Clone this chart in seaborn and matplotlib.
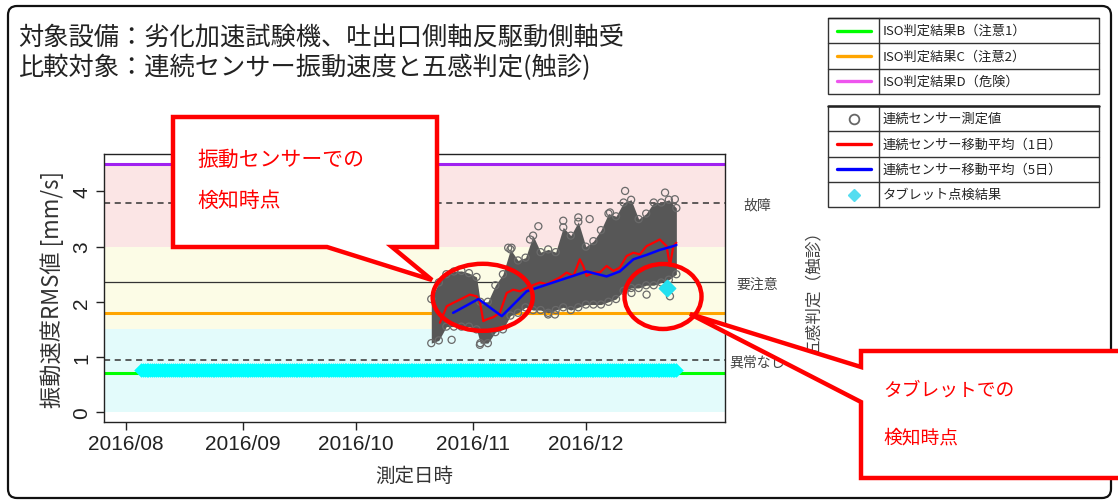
import numpy as np
import pandas as pd
import matplotlib
matplotlib.use("Agg")
import matplotlib.pyplot as plt
import matplotlib.dates as mdates
from matplotlib.patches import Polygon, Ellipse, FancyBboxPatch, Rectangle
import seaborn as sns

sns.set_theme(style="white")
plt.rcParams['font.family'] = ['Noto Sans CJK JP', 'DejaVu Sans']

BASE = pd.Timestamp("2016-08-01")

# ISO thresholds (mm/s)
iso_b, iso_c, iso_d = 0.71, 1.8, 4.5
# five-sense (palpation) judgement levels
sense_levels = [0.95, 2.35, 3.8]
sense_labels = ["異常なし", "要注意", "故障"]
# background bands
band_lo = [0.0, 1.5, 3.0]
band_hi = [1.5, 3.0, 4.5]
band_colors = ["#e3fbfb", "#fcfce6", "#fbe5e5"]

# x-axis month ticks
month_ticks = ["2016-08-01", "2016-09-01", "2016-10-01", "2016-11-01", "2016-12-01"]

# continuous sensor: spread of measured values per day (days since 2016-08-01)
env_day = [81, 83, 85, 87, 89, 91, 93, 94, 96, 98, 100, 102, 104, 106, 108, 110,
           112, 114, 116, 118, 120, 122, 124, 126, 128, 130, 132, 134, 136, 138,
           140, 142, 144, 146]
env_lo = [1.25, 1.30, 1.55, 1.55, 1.55, 1.55, 1.50, 1.25, 1.25, 1.45, 1.50, 1.75,
          1.80, 1.90, 1.85, 1.85, 1.80, 1.85, 1.90, 1.85, 1.90, 1.95, 1.95, 1.95,
          2.00, 2.05, 2.20, 2.25, 2.25, 2.30, 2.30, 2.35, 2.40, 2.50]
env_hi = [2.05, 2.35, 2.50, 2.55, 2.56, 2.52, 2.45, 2.00, 2.00, 2.30, 2.50, 2.95,
          2.75, 2.80, 3.20, 2.90, 2.95, 2.90, 3.35, 3.20, 3.45, 3.00, 3.10, 3.30,
          3.60, 3.55, 3.80, 3.85, 3.50, 3.60, 3.80, 3.80, 3.85, 3.70]
# isolated sensor readings
out_day = [86.4, 93.9, 112.0, 113.8, 134.1, 138.1, 144.3, 132.4, 143.0, 145.6,
           101.4, 102.3, 116.0, 120.0, 123.0, 128.4, 107.2, 109.4]
out_val = [1.31, 1.22, 1.77, 1.77, 2.16, 2.13, 2.10, 4.01, 3.98, 3.86,
           2.98, 2.98, 3.47, 3.53, 3.50, 3.62, 3.13, 3.37]

# moving averages
ma1_day = [83.3, 85.1, 86.8, 88.6, 91.2, 93.0, 93.9, 94.8, 95.7, 97.4, 99.2, 101.0,
           102.7, 104.5, 107.2, 109.8, 111.6, 115.1, 116.9, 118.7, 120.4, 121.3,
           122.2, 124.0, 125.7, 127.5, 129.3, 131.0, 132.8, 134.6, 136.3, 138.1,
           139.9, 141.6, 143.4, 144.3, 145.2, 146.0]
ma1_val = [1.62, 1.92, 1.98, 2.04, 2.13, 2.10, 2.00, 1.65, 1.68, 1.72, 1.80, 2.16,
           2.22, 2.19, 2.28, 2.35, 2.32, 2.44, 2.53, 2.47, 2.77, 2.65, 2.47, 2.53,
           2.53, 2.65, 2.56, 2.62, 2.83, 2.89, 2.86, 3.01, 3.07, 3.13, 3.01, 2.65,
           3.01, 3.07]
ma5_day = [86.8, 93.5, 99.7, 106.3, 113.3, 122.2, 127.5, 131.0, 134.6, 138.1,
           141.6, 145.2, 146.0]
ma5_val = [1.80, 2.05, 1.74, 2.19, 2.35, 2.55, 2.46, 2.55, 2.77, 2.85, 2.94, 3.01,
           3.03]

# tablet inspections: routine results and the detection
tablet_first, tablet_last = "2016-08-05", "2016-12-25"
tablet_level = 0.77
tablet_hit_day, tablet_hit_val = 143.4, 2.25


def to_date(days):
    return BASE + pd.to_timedelta(np.asarray(days, dtype=float), unit="D")


W, H = 1118, 502
fig = plt.figure(figsize=(W / 100, H / 100), dpi=100)
fig.patch.set_facecolor("white")

ax = fig.add_axes([103.6 / W, 1 - 423 / H, (725 - 103.6) / W, (423 - 155) / H])
ax.set_facecolor("white")

x0 = BASE - pd.Timedelta(days=5.9)
x1 = BASE + pd.Timedelta(days=158.9)
for lo, hi, c in zip(band_lo, band_hi, band_colors):
    ax.fill_between([x0, x1], lo, hi, color=c, lw=0, zorder=0)

ax.axhline(iso_d, color="#a020f0", lw=2.2, zorder=2)
ax.axhline(iso_c, color="#ffa500", lw=2.2, zorder=2)
ax.axhline(iso_b, color="#00ff00", lw=2.2, zorder=2)
ax.axhline(sense_levels[2], color="#333333", lw=1.1, ls=(0, (4, 3)), zorder=2)
ax.axhline(sense_levels[0], color="#333333", lw=1.1, ls=(0, (4, 3)), zorder=2)
ax.axhline(sense_levels[1], color="#333333", lw=0.9, zorder=2)

# sensor cloud: dense band of overlapping readings
env_dates = to_date(env_day)
ax.fill_between(env_dates, env_lo, env_hi, color="#575757", lw=0, zorder=3)
edge = pd.DataFrame({"t": np.concatenate([env_dates, env_dates, to_date(out_day)]),
                     "v": np.concatenate([env_lo, env_hi, out_val])})
sns.scatterplot(data=edge, x="t", y="v", ax=ax, marker="o", s=26,
                facecolors="none", edgecolor="#6a6a6a", linewidth=0.9, zorder=4)

tablet = pd.DataFrame({"t": pd.date_range(tablet_first, tablet_last, freq="12h")})
tablet["v"] = tablet_level
sns.scatterplot(data=tablet, x="t", y="v", ax=ax, marker="D", s=55,
                color="#00ffff", edgecolor="#00ffff", linewidth=0, zorder=4)

sns.lineplot(x=to_date(ma1_day), y=ma1_val, ax=ax, color="#ff0000", lw=1.6,
             estimator=None, sort=False, zorder=5)
sns.lineplot(x=to_date(ma5_day), y=ma5_val, ax=ax, color="#0000ff", lw=1.8,
             estimator=None, sort=False, zorder=6)
ax.scatter(to_date([tablet_hit_day]), [tablet_hit_val], marker="D", s=70,
           color="#22e0f0", zorder=7)

ax.set_xlim(x0, x1)
ax.set_ylim(-0.18, 4.68)
ax.set_yticks([0, 1, 2, 3, 4])
ax.set_yticklabels(["0", "1", "2", "3", "4"], rotation=90, va="center",
                   family=["Liberation Sans"], fontsize=15)
ax.set_xticks(pd.to_datetime(month_ticks))
ax.xaxis.set_major_formatter(mdates.DateFormatter("%Y/%m"))
for lab in ax.get_xticklabels():
    lab.set_fontfamily(["Liberation Sans"])
    lab.set_fontsize(15)
ax.tick_params(axis="both", direction="out", length=6, width=1, color="#222222",
               labelcolor="#222222", left=True, bottom=True)
ax.tick_params(axis="x", pad=3)
ax.tick_params(axis="y", pad=3)
for s in ax.spines.values():
    s.set_color("#222222")
    s.set_linewidth(1.0)
ax.set_xlabel("測定日時", fontsize=14, color="#333333", labelpad=8)
ax.set_ylabel("振動速度RMS値 [mm/s]", fontsize=16, color="#333333", labelpad=6)

ax2 = ax.twinx()
ax2.set_ylim(ax.get_ylim())
ax2.set_yticks(sense_levels)
ax2.set_yticklabels(sense_labels, fontsize=10, color="#444444", ha="center")
ax2.tick_params(axis="y", length=0, pad=23)
for s in ax2.spines.values():
    s.set_visible(False)
ax2.set_ylabel("五感判定（触診）", fontsize=12, color="#444444", rotation=90)
ax2.yaxis.set_label_coords(1.129, 0.5)
ax2.grid(False)

# overlay in pixel coordinates for frame, legends and callouts
ov = fig.add_axes([0, 0, 1, 1], zorder=10)
ov.set_xlim(0, W)
ov.set_ylim(H, 0)
ov.axis("off")
ov.patch.set_alpha(0)

ov.add_patch(FancyBboxPatch((8, 7), 1103, 492,
                            boxstyle="round,pad=0,rounding_size=9",
                            fc="none", ec="#111111", lw=1.6))

ov.text(18, 38, "対象設備：劣化加速試験機、吐出口側軸反駆動側軸受", fontsize=18.2,
        color="#222222", va="center", ha="left")
ov.text(18, 68, "比較対象：連続センサー振動速度と五感判定(触診)", fontsize=18.2,
        color="#222222", va="center", ha="left")

# legends
leg1 = [("line", "#00ff00", "ISO判定結果B（注意1）"),
        ("line", "#ffa500", "ISO判定結果C（注意2）"),
        ("line", "#ee55ee", "ISO判定結果D（危険）")]
leg2 = [("circle", "#666666", "連続センサー測定値"),
        ("line", "#ff0000", "連続センサー移動平均（1日）"),
        ("line", "#0000ff", "連続センサー移動平均（5日）"),
        ("diamond", "#55ddf0", "タブレット点検結果")]


def draw_legend(top, rows, row_h, top_lw):
    lx, rx, cx = 828, 1099, 879
    bottom = top + row_h * len(rows)
    ov.add_patch(Rectangle((lx, top), rx - lx, bottom - top, fc="white",
                           ec="#333333", lw=1.0))
    ov.plot([lx, rx], [top, top], color="#222222", lw=top_lw)
    ov.plot([cx, cx], [top, bottom], color="#333333", lw=1.0)
    for i, (kind, col, label) in enumerate(rows):
        yc = top + row_h * (i + 0.5)
        if i > 0:
            ov.plot([lx, rx], [top + row_h * i] * 2, color="#333333", lw=1.0)
        if kind == "line":
            ov.plot([837, 871], [yc, yc], color=col, lw=2.4)
        elif kind == "circle":
            ov.plot([854], [yc], marker="o", ms=7, mfc="none", mec=col, mew=1.3)
        else:
            ov.plot([854], [yc], marker="D", ms=6.5, mfc=col, mec=col)
        ov.text(883, yc, label, fontsize=9.5, color="#222222", va="center",
                ha="left")


draw_legend(19, leg1, 25.3, 1.0)
draw_legend(107, leg2, 25.3, 1.8)

# callouts
red = "#ff0000"
ov.add_patch(Polygon([(173, 118), (437, 118), (437, 248), (392, 248), (432, 281),
                      (327, 248), (173, 248)], closed=True, fc="white", ec=red,
                     lw=3.2, joinstyle="miter"))
ov.text(197, 160, "振動センサーでの", fontsize=15, color=red, va="center")
ov.text(197, 201, "検知時点", fontsize=15, color=red, va="center")

ov.add_patch(Ellipse((482.7, 298.3), 100, 67, fc="none", ec=red, lw=3.2))
ov.add_patch(Ellipse((663, 297.5), 77, 65, fc="none", ec=red, lw=3.2))

ov.add_patch(Polygon([(861, 352), (1130, 352), (1130, 479), (861, 479), (861, 403),
                      (690, 315), (861, 368)], closed=True, fc="white", ec=red,
                     lw=3.2, joinstyle="miter"))
ov.text(883, 390, "タブレットでの", fontsize=13.5, color=red, va="center")
ov.text(883, 438, "検知時点", fontsize=13.5, color=red, va="center")

fig.savefig("out.png", dpi=100)
